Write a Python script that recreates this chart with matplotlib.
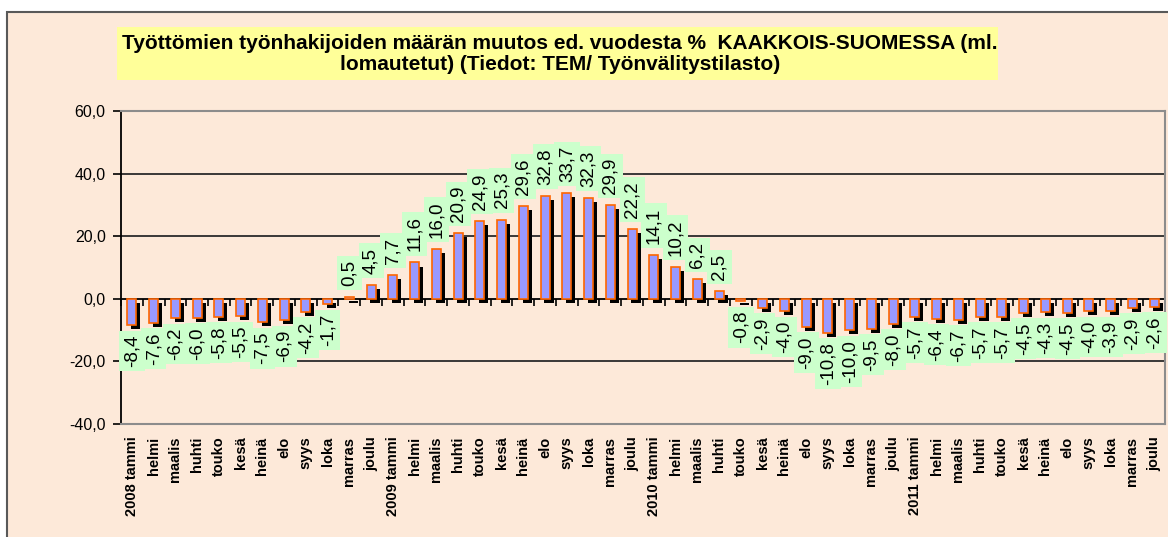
import matplotlib.pyplot as plt
import matplotlib.patches as mpatches
import numpy as np

plt.rcParams['font.family'] = ['Liberation Sans', 'DejaVu Sans']

# Kuukaudet 2008-2011
kuukaudet = ['tammi', 'helmi', 'maalis', 'huhti', 'touko', 'kesä',
             'heinä', 'elo', 'syys', 'loka', 'marras', 'joulu']
vuodet = [2008, 2009, 2010, 2011]
labels = []
for v in vuodet:
    for k, m in enumerate(kuukaudet):
        labels.append(f'{v} {m}' if k == 0 else m)

# muutos ed. vuodesta %
arvot_2008 = [-8.4, -7.6, -6.2, -6.0, -5.8, -5.5, -7.5, -6.9, -4.2, -1.7, 0.5, 4.5]
arvot_2009 = [7.7, 11.6, 16.0, 20.9, 24.9, 25.3, 29.6, 32.8, 33.7, 32.3, 29.9, 22.2]
arvot_2010 = [14.1, 10.2, 6.2, 2.5, -0.8, -2.9, -4.0, -9.0, -10.8, -10.0, -9.5, -8.0]
arvot_2011 = [-5.7, -6.4, -6.7, -5.7, -5.7, -4.5, -4.3, -4.5, -4.0, -3.9, -2.9, -2.6]
arvot = np.array(arvot_2008 + arvot_2009 + arvot_2010 + arvot_2011)

tausta = '#FDE9D9'
fig = plt.figure(figsize=(11.68, 5.37), dpi=100, facecolor='white')

# kaavion kehys
fig.patches.append(mpatches.Rectangle((7 / 1168, -0.05), 1.1, 0.978 + 0.05,
                                      transform=fig.transFigure, facecolor=tausta,
                                      edgecolor='#595959', linewidth=1.5, zorder=-5))

ax = fig.add_axes([121 / 1168, 1 - 424 / 537, (1165 - 121) / 1168, (424 - 111) / 537])
ax.set_facecolor(tausta)

x = np.arange(len(arvot))
w = 0.42
varjo = 1.3
# varjo (3D-efekti)
ax.bar(x + 0.18, arvot, width=w, bottom=-varjo, color='black', zorder=2)
ax.bar(x, arvot, width=w, color='#9999FF', edgecolor='#FF6600', linewidth=1.2, zorder=3)

for xi, v in zip(x, arvot):
    txt = f'{v:.1f}'.replace('.', ',')
    if v >= 0:
        ax.annotate(txt, (xi, v), xytext=(0, 8), textcoords='offset points',
                    rotation=90, ha='center', va='bottom', fontsize=13.5, zorder=5,
                    bbox=dict(boxstyle='square,pad=0.22', facecolor='#CCFFCC', edgecolor='none'))
    else:
        ax.annotate(txt, (xi, v - varjo), xytext=(0, -4), textcoords='offset points',
                    rotation=90, ha='center', va='top', fontsize=13.5, zorder=5,
                    bbox=dict(boxstyle='square,pad=0.22', facecolor='#CCFFCC', edgecolor='none'))

ax.set_xlim(-0.5, len(arvot) - 0.5)
ax.set_ylim(-40, 60)
ax.set_yticks([-40, -20, 0, 20, 40, 60])
ax.set_yticklabels([f'{t:.1f}'.replace('.', ',') for t in [-40, -20, 0, 20, 40, 60]], fontsize=11.5)
for g in [-20, 20, 40]:
    ax.axhline(g, color='#2a2a2a', linewidth=1.3, zorder=1)

ax.set_xticks(x)
ax.set_xticklabels(labels, rotation=90, fontsize=10.5, fontweight='bold')
ax.tick_params(axis='x', length=0, pad=9)
ax.tick_params(axis='y', direction='out', length=6, width=1.2, pad=5)

for s in ['top', 'right', 'bottom']:
    ax.spines[s].set_color('#8c8c8c')
    ax.spines[s].set_linewidth(1.5)
ax.spines['left'].set_color('black')
ax.spines['left'].set_linewidth(1.3)

# nollataso ja jakoviivat
sec = ax.secondary_xaxis(0.4)
sec.set_xticks(np.arange(-0.5, len(arvot), 1.0))
sec.set_xticklabels([])
sec.tick_params(direction='out', length=5, width=1.2)
sec.spines['bottom'].set_linewidth(1.3)
sec.spines['bottom'].set_color('black')

# otsikko
fig.patches.append(mpatches.Rectangle((117 / 1168, 1 - 80 / 537), (998 - 117) / 1168, 53 / 537,
                                      transform=fig.transFigure, facecolor='#FFFF99',
                                      edgecolor='none', zorder=1))
fig.text(560 / 1168, 1 - 54 / 537,
         'Työttömien työnhakijoiden määrän muutos ed. vuodesta %  KAAKKOIS-SUOMESSA (ml.\n'
         'lomautetut) (Tiedot: TEM/ Työnvälitystilasto)',
         ha='center', va='center', fontsize=15, fontweight='bold', linespacing=1.1)

fig.savefig('out.png', dpi=100, facecolor='white')
